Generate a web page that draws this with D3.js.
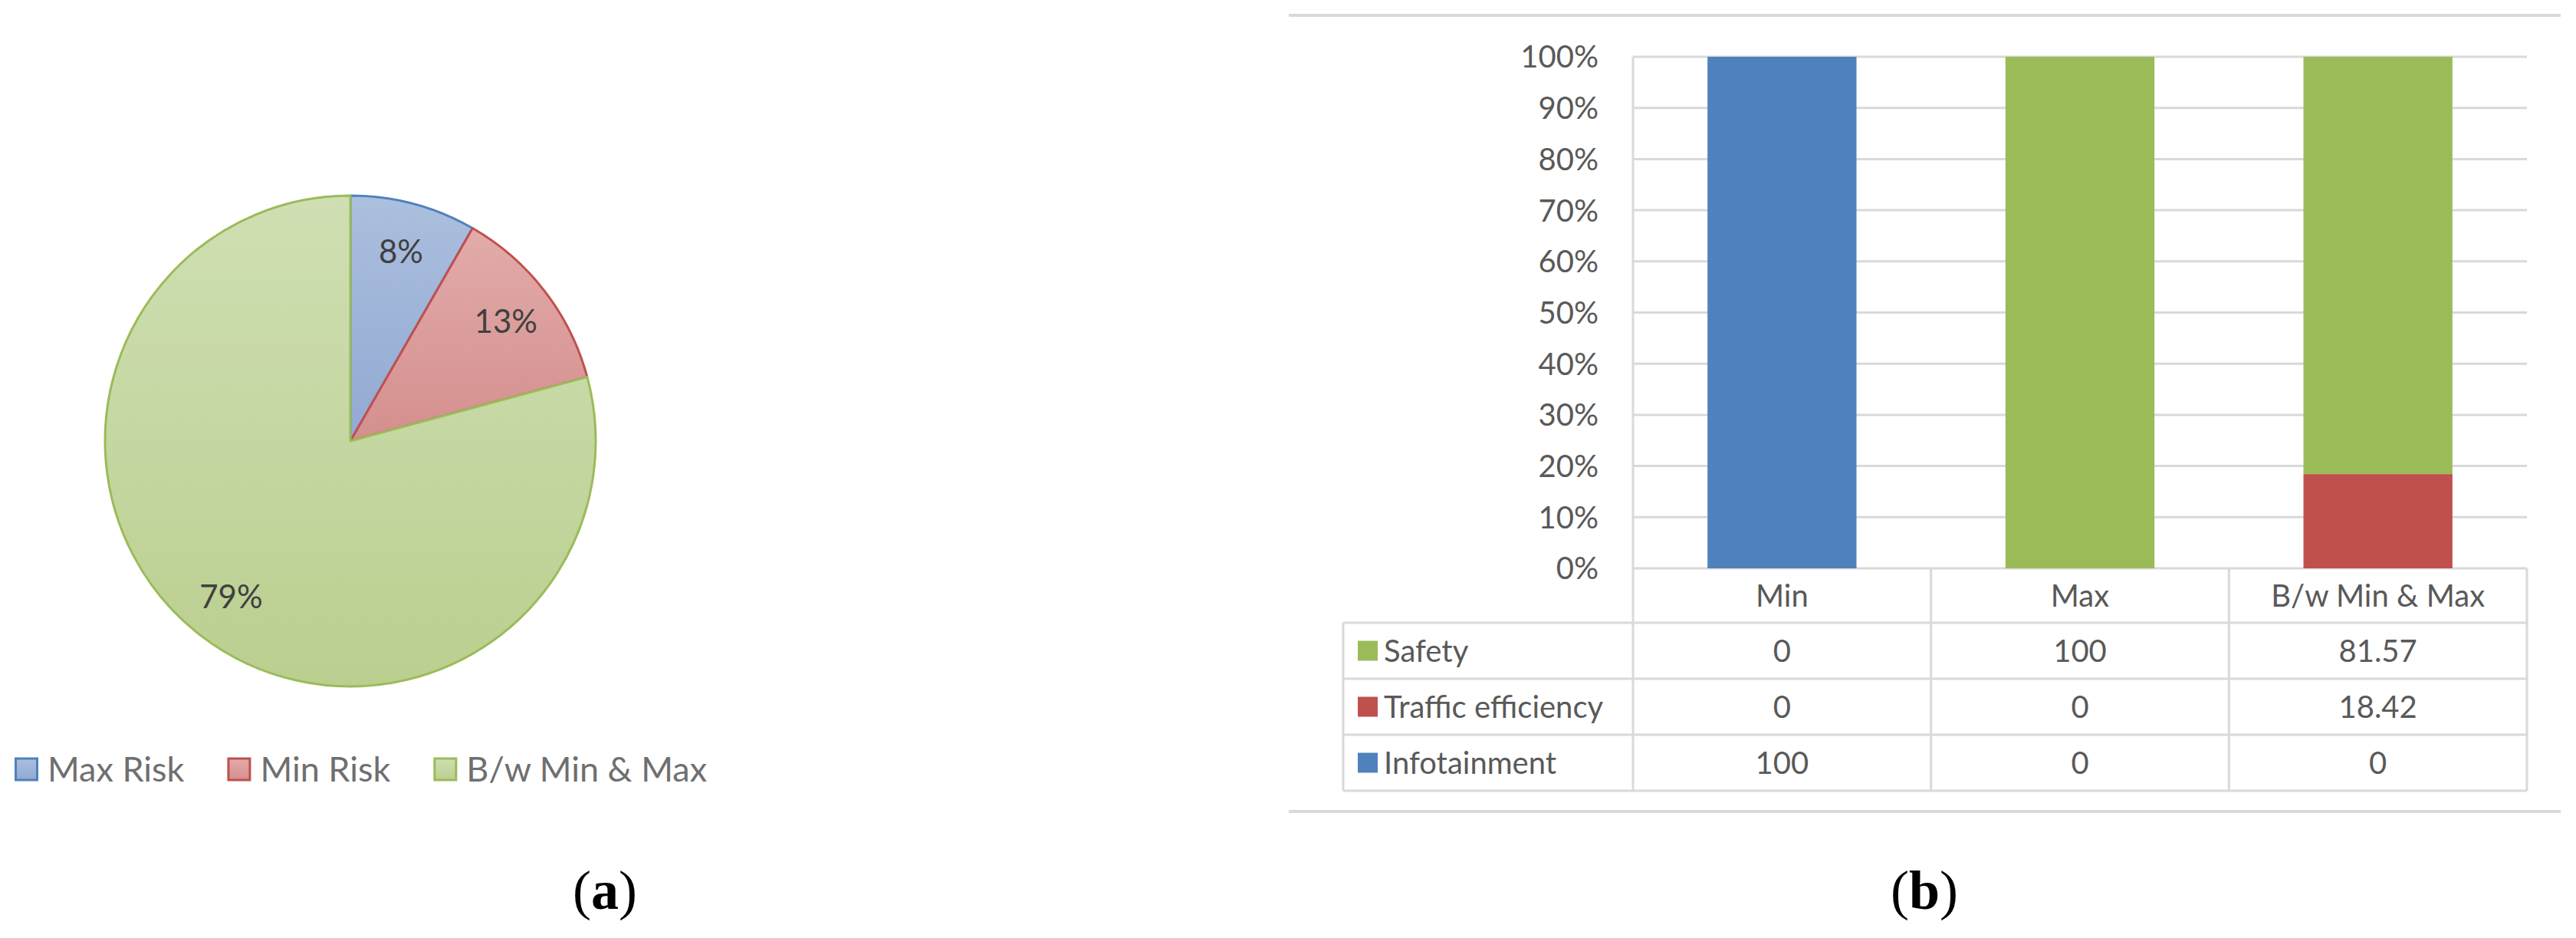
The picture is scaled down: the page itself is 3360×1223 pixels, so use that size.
<!DOCTYPE html>
<html>
<head>
<meta charset="utf-8">
<script src="https://d3js.org/d3.v7.min.js"></script>
<style>
    body { margin: 0; background: #fff; }
    text { font-family: Lato, "Open Sans", sans-serif; }
    .caption { font-family: "Liberation Serif", "DejaVu Serif", serif; }
</style>
</head>
<body>
<script>
(function(){

//pie data (panel a)
var pieLabels = ["Max Risk", "Min Risk", "B/w Min & Max"];
var pieValues = [8.3, 12.5, 79.2];

//stacked bar data (panel b)
var categories = ["Min", "Max", "B/w Min & Max"];
var seriesNames = ["Safety", "Traffic efficiency", "Infotainment"];
var safety = [0, 100, 81.57];
var traffic = [0, 0, 18.42];
var infotainment = [100, 0, 0];

//colors
var lineColors = ["#4f81bd", "#c0504d", "#9bbb59"];
var gradTop = ["#abbfde", "#e2abaa", "#cfdfb3"];
var gradBottom = ["#92a9d2", "#d48f8e", "#bacf8f"];
var seriesColors = {"Safety": "#9bbb59", "Traffic efficiency": "#c0504d", "Infotainment": "#4f81bd"};
var gridColor = "#d9d9d9";
var textColor = "#595959";

var width = 3360, height = 1223;

var svg = d3.select("body")
    .append("svg")
    .attr("width", width)
    .attr("height", height);

svg.append("rect")
    .attr("width", width)
    .attr("height", height)
    .attr("fill", "#fff");

setPie();
setBars();
setCaptions();

//panel a: pie with legend below
function setPie(){
    var cx = 457, cy = 575, r = 320;

    var defs = svg.append("defs");
    pieLabels.forEach(function(d, i){
        var g = defs.append("linearGradient")
            .attr("id", "grad" + i)
            .attr("x1", 0).attr("y1", 0)
            .attr("x2", 0).attr("y2", 1);
        g.append("stop").attr("offset", "0%").attr("stop-color", gradTop[i]);
        g.append("stop").attr("offset", "100%").attr("stop-color", gradBottom[i]);
    });

    var pie = d3.pie().sort(null).value(function(d){ return d; });
    var arcs = pie(pieValues);
    var arc = d3.arc().innerRadius(0).outerRadius(r);
    var labelArc = d3.arc().innerRadius(r * 0.8).outerRadius(r * 0.8);

    var g = svg.append("g").attr("transform", "translate(" + cx + "," + cy + ")");

    g.selectAll(".slice")
        .data(arcs)
        .enter()
        .append("path")
        .attr("class", "slice")
        .attr("d", arc)
        .attr("fill", function(d, i){ return "url(#grad" + i + ")"; })
        .attr("stroke", function(d, i){ return lineColors[i]; })
        .attr("stroke-width", 3)
        .attr("stroke-linejoin", "round");

    var total = d3.sum(pieValues);
    g.selectAll(".pieLabel")
        .data(arcs)
        .enter()
        .append("text")
        .attr("class", "pieLabel")
        .attr("transform", function(d){ return "translate(" + labelArc.centroid(d) + ")"; })
        .attr("text-anchor", "middle")
        .attr("dy", "0.36em")
        .attr("font-size", 42)
        .attr("fill", "#404040")
        .text(function(d){ return Math.round(d.value / total * 100) + "%"; });

    //legend
    var legendY = 1003, x = 19, box = 31;
    pieLabels.forEach(function(name, i){
        svg.append("rect")
            .attr("x", x + 1.5)
            .attr("y", legendY - box / 2 + 1.5)
            .attr("width", box - 3)
            .attr("height", box - 3)
            .attr("fill", "url(#grad" + i + ")")
            .attr("stroke", lineColors[i])
            .attr("stroke-width", 3);
        var t = svg.append("text")
            .attr("x", x + 43)
            .attr("y", legendY)
            .attr("dy", "0.36em")
            .attr("font-size", 45)
            .attr("fill", "#6f6f6f")
            .text(name);
        x = x + 43 + t.node().getComputedTextLength() + 56;
    });
};

//panel b: 100% stacked columns with data table
function setBars(){
    var plotL = 2130, plotR = 3296, plotT = 74, plotB = 741;
    var tableL = 1752, rowTop = 812, rowH = 73;
    var tableB = rowTop + rowH * seriesNames.length;

    //frame lines above and below
    [20, 1058].forEach(function(yy){
        svg.append("line")
            .attr("x1", 1681).attr("x2", 3340)
            .attr("y1", yy).attr("y2", yy)
            .attr("stroke", gridColor)
            .attr("stroke-width", 4);
    });

    var x = d3.scaleBand()
        .domain(categories)
        .range([plotL, plotR])
        .paddingInner(0.5)
        .paddingOuter(0.25);

    var y = d3.scaleLinear()
        .domain([0, 1])
        .range([plotB, plotT]);

    //gridlines
    svg.selectAll(".grid")
        .data(y.ticks(10))
        .enter()
        .append("line")
        .attr("class", "grid")
        .attr("x1", plotL).attr("x2", plotR)
        .attr("y1", function(d){ return y(d); })
        .attr("y2", function(d){ return y(d); })
        .attr("stroke", gridColor)
        .attr("stroke-width", 3);

    //tick labels
    svg.selectAll(".yLabel")
        .data(y.ticks(10))
        .enter()
        .append("text")
        .attr("class", "yLabel")
        .attr("x", 2085)
        .attr("y", function(d){ return y(d); })
        .attr("dy", "0.36em")
        .attr("text-anchor", "end")
        .attr("font-size", 40)
        .attr("fill", textColor)
        .text(d3.format(".0%"));

    //stack the series, infotainment at the bottom
    var rows = categories.map(function(c, i){
        return {cat: c, "Safety": safety[i], "Traffic efficiency": traffic[i], "Infotainment": infotainment[i]};
    });
    var stack = d3.stack()
        .keys(["Infotainment", "Traffic efficiency", "Safety"])
        .offset(d3.stackOffsetExpand);
    var layers = stack(rows);

    var layer = svg.selectAll(".layer")
        .data(layers)
        .enter()
        .append("g")
        .attr("class", "layer")
        .attr("fill", function(d){ return seriesColors[d.key]; });

    layer.selectAll("rect")
        .data(function(d){ return d; })
        .enter()
        .append("rect")
        .attr("x", function(d){ return x(d.data.cat); })
        .attr("width", x.bandwidth())
        .attr("y", function(d){ return y(d[1]); })
        .attr("height", function(d){ return y(d[0]) - y(d[1]); });

    //table grid
    var step = x.step();
    var colEdges = d3.range(categories.length + 1).map(function(i){ return plotL + i * step; });
    colEdges.forEach(function(cx, i){
        svg.append("line")
            .attr("x1", cx).attr("x2", cx)
            .attr("y1", i == 0 ? plotT : plotB)
            .attr("y2", tableB)
            .attr("stroke", gridColor)
            .attr("stroke-width", 3);
    });
    svg.append("line")
        .attr("x1", tableL).attr("x2", tableL)
        .attr("y1", rowTop).attr("y2", tableB)
        .attr("stroke", gridColor)
        .attr("stroke-width", 3);
    d3.range(seriesNames.length + 1).forEach(function(i){
        svg.append("line")
            .attr("x1", tableL).attr("x2", plotR)
            .attr("y1", rowTop + i * rowH).attr("y2", rowTop + i * rowH)
            .attr("stroke", gridColor)
            .attr("stroke-width", 3);
    });

    //header row
    svg.selectAll(".colHead")
        .data(categories)
        .enter()
        .append("text")
        .attr("class", "colHead")
        .attr("x", function(d){ return x(d) + x.bandwidth() / 2; })
        .attr("y", (plotB + rowTop) / 2)
        .attr("dy", "0.36em")
        .attr("text-anchor", "middle")
        .attr("font-size", 40)
        .attr("fill", textColor)
        .text(function(d){ return d; });

    //data rows
    var tableVals = {"Safety": safety, "Traffic efficiency": traffic, "Infotainment": infotainment};
    seriesNames.forEach(function(name, r){
        var cy = rowTop + r * rowH + rowH / 2;
        svg.append("rect")
            .attr("x", 1771)
            .attr("y", cy - 13)
            .attr("width", 26)
            .attr("height", 26)
            .attr("fill", seriesColors[name]);
        svg.append("text")
            .attr("x", 1805)
            .attr("y", cy)
            .attr("dy", "0.36em")
            .attr("font-size", 40)
            .attr("fill", textColor)
            .text(name);
        categories.forEach(function(c, i){
            svg.append("text")
                .attr("x", x(c) + x.bandwidth() / 2)
                .attr("y", cy)
                .attr("dy", "0.36em")
                .attr("text-anchor", "middle")
                .attr("font-size", 40)
                .attr("fill", textColor)
                .text(tableVals[name][i]);
        });
    });
};

//sub-figure captions
function setCaptions(){
    [["a", 789], ["b", 2510]].forEach(function(c){
        var t = svg.append("text")
            .attr("class", "caption")
            .attr("x", c[1])
            .attr("y", 1185)
            .attr("text-anchor", "middle")
            .attr("font-size", 72)
            .attr("fill", "#000");
        t.append("tspan").text("(");
        t.append("tspan").attr("font-weight", "bold").text(c[0]);
        t.append("tspan").text(")");
    });
};

})();
</script>
</body>
</html>
